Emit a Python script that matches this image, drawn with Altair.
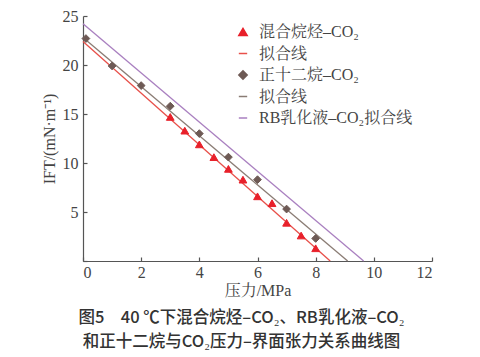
import altair as alt
import pandas as pd

# ---- data ----
mixed_p = [3.0, 3.5, 4.0, 4.5, 5.0, 5.5, 6.0, 6.5, 7.0, 7.5, 8.0]
mixed_ift = [14.7, 13.3, 11.9, 10.6, 9.4, 8.3, 6.6, 5.9, 3.9, 2.6, 1.3]

dodecane_p = [0.1, 1.0, 2.0, 3.0, 4.0, 5.0, 6.0, 7.0, 8.0]
dodecane_ift = [22.7, 19.9, 17.9, 15.8, 13.0, 10.6, 8.3, 5.3, 2.3]

fit_mixed_p = [0.0, 8.5]
fit_mixed_ift = [22.4, 0.0]
fit_dodecane_p = [0.0, 9.1]
fit_dodecane_ift = [22.8, 0.0]
fit_rb_p = [0.0, 9.65]
fit_rb_ift = [24.2, 0.0]

keys = ["a", "b", "c", "d", "e"]
labels = ["混合烷烃–CO₂", "拟合线", "正十二烷–CO₂", "拟合线", "RB乳化液–CO₂拟合线"]
colors = ["#e8202a", "#e8504a", "#6e5a55", "#8a7c74", "#a97fc0"]
shapes = ["triangle-up", "stroke", "diamond", "stroke", "stroke"]

x_ticks = [0, 2, 4, 6, 8, 10, 12]
y_ticks = [5, 10, 15, 20, 25]

# ---- tables ----
pts = pd.DataFrame({
    "p": mixed_p + dodecane_p,
    "ift": mixed_ift + dodecane_ift,
    "key": ["a"] * len(mixed_p) + ["c"] * len(dodecane_p),
})
lines = pd.DataFrame({
    "p": fit_mixed_p + fit_dodecane_p + fit_rb_p,
    "ift": fit_mixed_ift + fit_dodecane_ift + fit_rb_ift,
    "key": ["b"] * 2 + ["d"] * 2 + ["e"] * 2,
})

label_expr = " : ".join(
    f"datum.value == '{k}' ? '{l}'" for k, l in zip(keys, labels)
) + " : ''"

SERIF = "Liberation Serif, Noto Serif CJK SC, Noto Sans CJK SC"
W, H = 349, 245

legend = alt.Legend(
    title=None, orient="none", legendX=152, legendY=8,
    labelExpr=label_expr, labelFont=SERIF, labelFontSize=16,
    labelColor="#444", symbolSize=70, symbolStrokeWidth=1.5,
    rowPadding=5.5, labelOffset=8,
)

color_scale = alt.Scale(domain=keys, range=colors)
shape_scale = alt.Scale(domain=keys, range=shapes)

x_main = alt.X("p:Q", scale=alt.Scale(domain=[0, 12], nice=False),
               axis=alt.Axis(values=x_ticks, ticks=False, grid=False,
                             title="压力/MPa", labelPadding=3, titlePadding=2))
y_main = alt.Y("ift:Q", scale=alt.Scale(domain=[0, 25], nice=False),
               axis=alt.Axis(values=y_ticks, ticks=False, grid=False,
                             title="IFT/(mN·m⁻¹)", labelPadding=5, titlePadding=5))

x_ticks_axis = alt.X("p:Q", axis=alt.Axis(orient="top", offset=-H, values=x_ticks, labels=False,
                                          domain=False, grid=False, ticks=True, tickSize=4,
                                          title=None))
y_ticks_axis = alt.Y("ift:Q", axis=alt.Axis(orient="right", offset=-W, values=[0] + y_ticks,
                                            labels=False, domain=False, grid=False, ticks=True,
                                            tickSize=4, title=None))

fits = alt.Chart(lines).mark_line(strokeWidth=1.3).encode(
    x=x_ticks_axis,
    y=y_ticks_axis,
    color=alt.Color("key:N", scale=color_scale, legend=legend),
    detail="key:N",
)

points = alt.Chart(pts).mark_point(filled=True, size=60, opacity=1, strokeWidth=1).encode(
    x=x_main,
    y=y_main,
    color=alt.Color("key:N", scale=color_scale, legend=legend),
    stroke=alt.Stroke("key:N", scale=alt.Scale(domain=keys, range=colors), legend=legend),
    shape=alt.Shape("key:N", scale=shape_scale, legend=legend),
)

chart = alt.layer(fits, points).resolve_axis(x="independent", y="independent").properties(
    width=W, height=H,
    title=alt.TitleParams(
        text=["图5　40 ℃下混合烷烃–CO₂、RB乳化液–CO₂", "和正十二烷与CO₂压力–界面张力关系曲线图"],
        orient="bottom", anchor="middle", dx=-16, offset=12,
        font="Noto Sans CJK SC", fontSize=16.5, fontWeight=500, color="#333",
        lineHeight=24,
    ),
    autosize=alt.AutoSizeParams(type="none"),
    padding={"left": 75, "top": 8, "right": 30, "bottom": 96},
).configure_view(stroke=None).configure_axis(
    domainColor="#555", tickColor="#555", domainWidth=1.2, tickWidth=1.2,
    labelFont=SERIF, labelFontSize=16, labelColor="#444",
    titleFont=SERIF, titleFontSize=16, titleColor="#444", titleFontWeight="normal",
)

chart.save("out.html", embed_options={"renderer": "svg", "actions": False})
